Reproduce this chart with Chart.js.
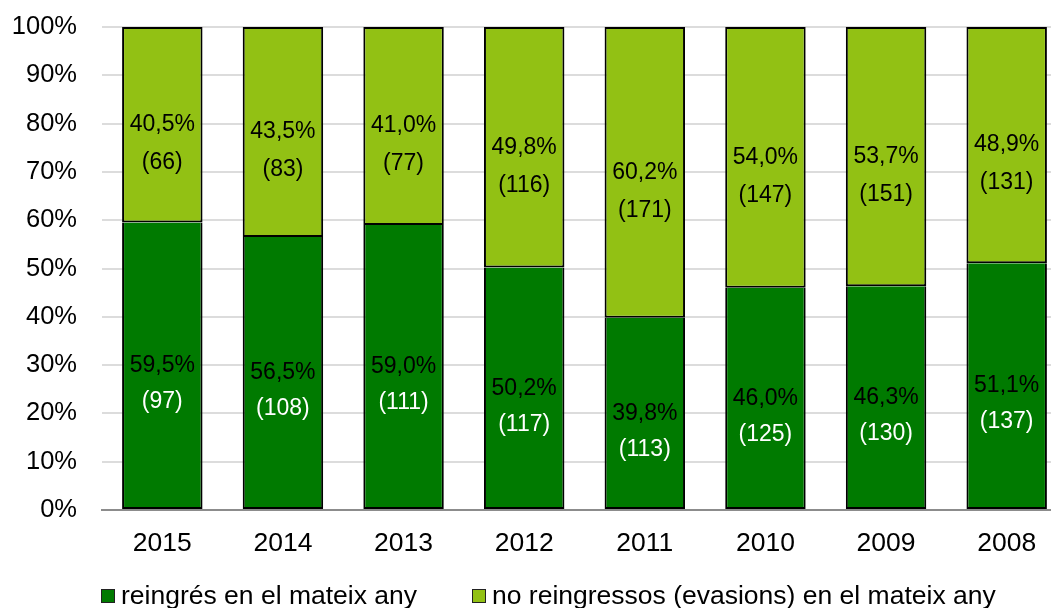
<!DOCTYPE html>
<html>
<head>
<meta charset="utf-8">
<script src="https://cdn.jsdelivr.net/npm/chart.js@4.4.0/dist/chart.umd.min.js"></script>
<style>
  html, body { margin: 0; padding: 0; background: #fff; overflow: hidden; }
  .wrap { position: relative; width: 1051px; height: 608px; overflow: hidden; }
  .box { position: absolute; left: 0; top: 0; width: 1076px; height: 608px; }
  .legend-item { position: absolute; top: 580px; height: 30px; line-height: 30px; font: 26.5px "Liberation Sans", Arial, sans-serif; color: #000; white-space: nowrap; }
  .legend-item i { position: absolute; left: 0; top: 9px; width: 12px; height: 12px; border: 1px solid #222; }
  .legend-item span { position: absolute; left: 20px; top: 0; }
</style>
</head>
<body>
<div class="wrap">
  <div class="box"><canvas id="bars" width="1076" height="608"></canvas></div>
  <div id="legend"></div>
</div>
<script>
const years = ['2015', '2014', '2013', '2012', '2011', '2010', '2009', '2008'];
const reingresPct = [59.5, 56.5, 59.0, 50.2, 39.8, 46.0, 46.3, 51.1];
const reingresN = [97, 108, 111, 117, 113, 125, 130, 137];
const evasionsPct = [40.5, 43.5, 41.0, 49.8, 60.2, 54.0, 53.7, 48.9];
const evasionsN = [66, 83, 77, 116, 171, 147, 151, 131];
const seriesNames = ['reingrés en el mateix any', 'no reingressos (evasions) en el mateix any'];
const yTicks = [0, 10, 20, 30, 40, 50, 60, 70, 80, 90, 100];

const darkGreen = '#007A00';
const lightGreen = '#92C114';
const font = '"Liberation Sans", Arial, sans-serif';

const fmt = v => v.toFixed(1).replace('.', ',') + '%';

// labels inside each segment: percentage at the middle, count below it
const segmentLabels = {
  id: 'segmentLabels',
  afterDatasetsDraw(chart) {
    const ctx = chart.ctx;
    ctx.save();
    ctx.font = '23px ' + font;
    ctx.textAlign = 'center';
    ctx.textBaseline = 'middle';
    chart.data.datasets.forEach((ds, di) => {
      const meta = chart.getDatasetMeta(di);
      meta.data.forEach((bar, i) => {
        const mid = (bar.y + bar.base) / 2;
        ctx.fillStyle = '#000';
        ctx.fillText(fmt(ds.data[i]), bar.x, mid);
        ctx.fillStyle = di === 0 ? '#fff' : '#000';
        ctx.fillText('(' + ds.counts[i] + ')', bar.x, mid + (di === 0 ? 36 : 38));
      });
    });
    ctx.restore();
  }
};

new Chart(document.getElementById('bars'), {
  type: 'bar',
  data: {
    labels: years,
    datasets: [{
      label: seriesNames[0],
      data: reingresPct,
      counts: reingresN,
      backgroundColor: darkGreen,
      borderColor: '#000',
      borderWidth: 2,
      borderSkipped: 'top'
    }, {
      label: seriesNames[1],
      data: evasionsPct,
      counts: evasionsN,
      backgroundColor: lightGreen,
      borderColor: '#000',
      borderWidth: 2,
      borderSkipped: false
    }]
  },
  options: {
    responsive: false,
    animation: false,
    events: [],
    layout: { padding: { top: 27, right: 9, left: 0, bottom: 0 } },
    datasets: { bar: { categoryPercentage: 1, barPercentage: 0.667 } },
    plugins: { legend: { display: false }, tooltip: { enabled: false } },
    scales: {
      x: {
        stacked: true,
        grid: { display: false },
        border: { display: true, color: '#8c8c8c', width: 2 },
        ticks: { color: '#000', font: { family: font, size: 26.5 }, padding: 10 },
        afterFit: s => { s.height = 98; }
      },
      y: {
        stacked: true,
        min: 0,
        max: 100,
        afterBuildTicks: s => { s.ticks = yTicks.map(v => ({ value: v })); },
        grid: { color: '#dcdcdc', lineWidth: 2, tickColor: 'rgba(0,0,0,0)', tickLength: 24 },
        border: { display: false },
        ticks: { color: '#000', font: { family: font, size: 25.5 }, padding: 1, callback: v => v + '%' },
        afterFit: s => { s.width = 102; }
      }
    }
  },
  plugins: [segmentLabels]
});

const legend = document.getElementById('legend');
const legendLeft = [101, 472];
[darkGreen, lightGreen].forEach((c, i) => {
  const item = document.createElement('div');
  item.className = 'legend-item';
  item.style.left = legendLeft[i] + 'px';
  const sw = document.createElement('i');
  sw.style.background = c;
  const txt = document.createElement('span');
  txt.textContent = seriesNames[i];
  item.appendChild(sw);
  item.appendChild(txt);
  legend.appendChild(item);
});
</script>
</body>
</html>
